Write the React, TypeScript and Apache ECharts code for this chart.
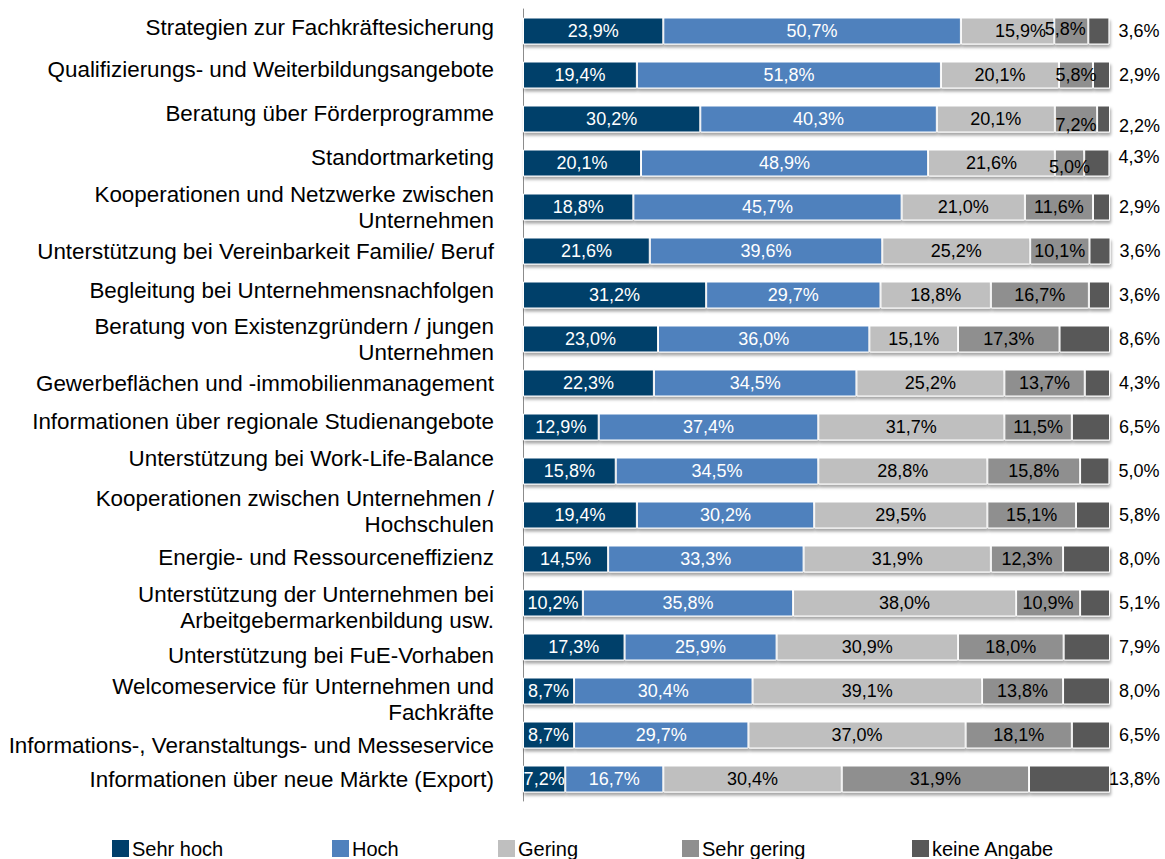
import React, { useEffect, useRef } from "react";
import * as echarts from "echarts";

const categories = [
  "Strategien zur Fachkräftesicherung",
  "Qualifizierungs- und Weiterbildungsangebote",
  "Beratung über Förderprogramme",
  "Standortmarketing",
  "Kooperationen und Netzwerke zwischen\nUnternehmen",
  "Unterstützung bei Vereinbarkeit Familie/ Beruf",
  "Begleitung bei Unternehmensnachfolgen",
  "Beratung von Existenzgründern / jungen\nUnternehmen",
  "Gewerbeflächen und -immobilienmanagement",
  "Informationen über regionale Studienangebote",
  "Unterstützung bei Work-Life-Balance",
  "Kooperationen zwischen Unternehmen /\nHochschulen",
  "Energie- und Ressourceneffizienz",
  "Unterstützung der Unternehmen bei\nArbeitgebermarkenbildung usw.",
  "Unterstützung bei FuE-Vorhaben",
  "Welcomeservice für Unternehmen und\nFachkräfte",
  "Informations-, Veranstaltungs- und Messeservice",
  "Informationen über neue Märkte (Export)",
];

const seriesNames = ["Sehr hoch", "Hoch", "Gering", "Sehr gering", "keine Angabe"];

const sehrHoch = [23.9, 19.4, 30.2, 20.1, 18.8, 21.6, 31.2, 23.0, 22.3, 12.9, 15.8, 19.4, 14.5, 10.2, 17.3, 8.7, 8.7, 7.2];
const hoch = [50.7, 51.8, 40.3, 48.9, 45.7, 39.6, 29.7, 36.0, 34.5, 37.4, 34.5, 30.2, 33.3, 35.8, 25.9, 30.4, 29.7, 16.7];
const gering = [15.9, 20.1, 20.1, 21.6, 21.0, 25.2, 18.8, 15.1, 25.2, 31.7, 28.8, 29.5, 31.9, 38.0, 30.9, 39.1, 37.0, 30.4];
const sehrGering = [5.8, 5.8, 7.2, 5.0, 11.6, 10.1, 16.7, 17.3, 13.7, 11.5, 15.8, 15.1, 12.3, 10.9, 18.0, 13.8, 18.1, 31.9];
const keineAngabe = [3.6, 2.9, 2.2, 4.3, 2.9, 3.6, 3.6, 8.6, 4.3, 6.5, 5.0, 5.8, 8.0, 5.1, 7.9, 8.0, 6.5, 13.8];

// styling: vertical shift (px) of each category label, as in the reference
const labelShift = [-4, -6, -6, -6, 0, 0, -5, 0, 0, -6, -13, -4, -2, 4, 8, 8, 10, 0];
// styling: label offsets for a few small segments [series, row, dx, dy]
const segLabelOffsets: [number, number, number, number][] = [
  [2, 0, 13, 0],
  [3, 0, -6, -2],
  [3, 2, 0, 6],
  [3, 3, 0, 4],
  [4, 2, 0, 7],
  [4, 3, 0, -6],
];

const colors = ["#003F6B", "#4F81BD", "#BFBFBF", "#8F8F8F", "#595959"];
const labelColors = ["#ffffff", "#ffffff", "#000000", "#000000", "#000000"];
const legendLefts = [110, 330, 496, 680, 910];

const FONT = "Liberation Sans, Arial, sans-serif";
const fmt = (v: number) => v.toFixed(1).replace(".", ",") + "%";

export default function App() {
  const ref = useRef<HTMLDivElement>(null);
  useEffect(() => {
    if (!ref.current) return;
    const chart = echarts.init(ref.current, undefined, { renderer: "svg" });
    const allData = [sehrHoch, hoch, gering, sehrGering, keineAngabe];
    const series = allData.map((d, i) => ({
      name: seriesNames[i],
      type: "bar",
      stack: "total",
      barWidth: 27,
      data: d.map((v, r) => {
        const o = segLabelOffsets.find((s) => s[0] === i && s[1] === r);
        return o ? { value: v, label: { offset: [o[2], o[3]] } } : v;
      }),
      itemStyle: {
        color: colors[i],
        borderColor: "#ffffff",
        borderWidth: 1,
        shadowColor: "rgba(0,0,0,0.35)",
        shadowBlur: 3,
        shadowOffsetX: 1,
        shadowOffsetY: 3,
      },
      label:
        i < 4
          ? {
              show: true,
              position: "inside",
              color: labelColors[i],
              fontFamily: FONT,
              fontSize: 18,
              formatter: (p: any) => fmt(p.value),
            }
          : {
              show: true,
              position: "right",
              distance: 0,
              color: "#000",
              fontFamily: FONT,
              fontSize: 18,
              formatter: (p: any) => "{a|" + fmt(p.value) + "}",
              rich: {
                a: { width: 50, align: "right", fontFamily: FONT, fontSize: 18, color: "#000" },
              },
            },
      emphasis: { disabled: true },
    }));
    const legends = seriesNames.map((n, i) => ({
      data: [n],
      left: legendLefts[i],
      top: 838,
      padding: 0,
      itemWidth: 19,
      itemHeight: 19,
      icon: "rect",
      textStyle: { fontFamily: FONT, fontSize: 20, color: "#000", padding: [0, 0, 0, -3] },
      selectedMode: false,
    }));
    const rich: any = {};
    labelShift.forEach((s, i) => {
      rich["r" + i] = {
        fontFamily: FONT,
        fontSize: 22.4,
        color: "#000",
        lineHeight: 26,
        align: "right",
        padding: s < 0 ? [0, 0, -2 * s, 0] : [2 * s, 0, 0, 0],
      };
      rich["n" + i] = {
        fontFamily: FONT,
        fontSize: 22.4,
        color: "#000",
        lineHeight: 26,
        align: "right",
      };
    });
    chart.setOption({
      animation: false,
      legend: legends,
      grid: { left: 523, right: 55, top: 9, bottom: 58, containLabel: false },
      xAxis: {
        type: "value",
        min: 0,
        max: 100,
        show: false,
      },
      yAxis: {
        type: "category",
        inverse: true,
        data: categories,
        axisLine: { show: true, lineStyle: { color: "#8c8c8c", width: 1 } },
        axisTick: { show: false },
        axisLabel: {
          margin: 29,
          fontFamily: FONT,
          fontSize: 22.4,
          color: "#000",
          lineHeight: 26,
          align: "right",
          formatter: (v: string, idx: number) => {
            const lines = v.split("\n");
            if (lines.length === 1) return "{r" + idx + "|" + v + "}";
            const s = labelShift[idx];
            if (s === 0) return lines.map((l) => "{n" + idx + "|" + l + "}").join("\n");
            return lines.map((l) => "{r" + idx + "|" + l + "}").join("\n");
          },
          rich,
        },
      },
      series,
    });
    return () => chart.dispose();
  }, []);
  return (
    <div
      ref={ref}
      style={{ position: "fixed", left: 0, top: 0, width: 1165, height: 859, background: "#fff" }}
    />
  );
}
